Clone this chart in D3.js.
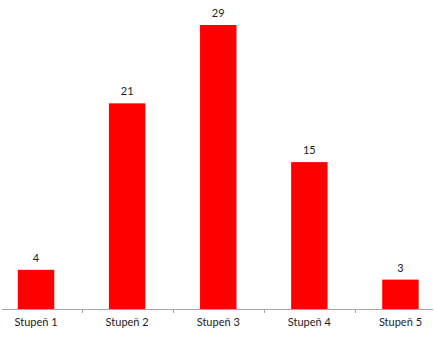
<!DOCTYPE html>
<html>
<head>
<meta charset="utf-8">
<script src="https://cdn.jsdelivr.net/npm/d3@7"></script>
<style>
  body { margin: 0; background: #fff; }
  svg { display: block; }
</style>
</head>
<body>
<svg id="chart" width="436" height="338"></svg>
<script>
// data
const categories = ["Stupeň 1", "Stupeň 2", "Stupeň 3", "Stupeň 4", "Stupeň 5"];
const values = [4, 21, 29, 15, 3];

const width = 436;
const height = 338;
const baseline = 309;
const font = "Lato, 'Open Sans', sans-serif";

const svg = d3.select("#chart");

// x scale: bands of ~91px, first one partly off the left edge
const x = d3.scaleBand()
  .domain(categories)
  .range([-9.5, 446])
  .paddingInner(0.6)
  .paddingOuter(0.3);

const y = d3.scaleLinear()
  .domain([0, 29])
  .range([baseline, 25]);

// bars
svg.selectAll("rect.bar")
  .data(values)
  .join("rect")
  .attr("class", "bar")
  .attr("x", (d, i) => x(categories[i]))
  .attr("y", d => y(d))
  .attr("width", x.bandwidth())
  .attr("height", d => baseline - y(d))
  .attr("fill", "#ff0000");

// value labels
svg.selectAll("text.val")
  .data(values)
  .join("text")
  .attr("class", "val")
  .attr("x", (d, i) => x(categories[i]) + x.bandwidth() / 2)
  .attr("y", d => y(d) - 8)
  .attr("text-anchor", "middle")
  .attr("font-family", font)
  .attr("font-size", 11)
  .attr("fill", "#222")
  .text(d => d);

// x axis
const xAxis = d3.axisBottom(x).tickSize(0).tickPadding(9);
const gx = svg.append("g")
  .attr("transform", `translate(0, ${baseline})`)
  .call(xAxis);
gx.select(".domain").remove();
gx.selectAll("text")
  .attr("font-family", font)
  .attr("font-size", 11)
  .attr("fill", "#222");

// axis line
svg.append("line")
  .attr("x1", 2).attr("x2", 433)
  .attr("y1", baseline + 0.5).attr("y2", baseline + 0.5)
  .attr("stroke", "#a6a6a6")
  .attr("stroke-width", 1);

// tick marks between categories
const step = x.step();
svg.selectAll("line.tick")
  .data(categories.slice(1))
  .join("line")
  .attr("class", "tick")
  .attr("x1", d => Math.round(x(d) - (step - x.bandwidth()) / 2) + 0.5)
  .attr("x2", d => Math.round(x(d) - (step - x.bandwidth()) / 2) + 0.5)
  .attr("y1", baseline)
  .attr("y2", baseline + 4)
  .attr("stroke", "#a6a6a6");
</script>
</body>
</html>
